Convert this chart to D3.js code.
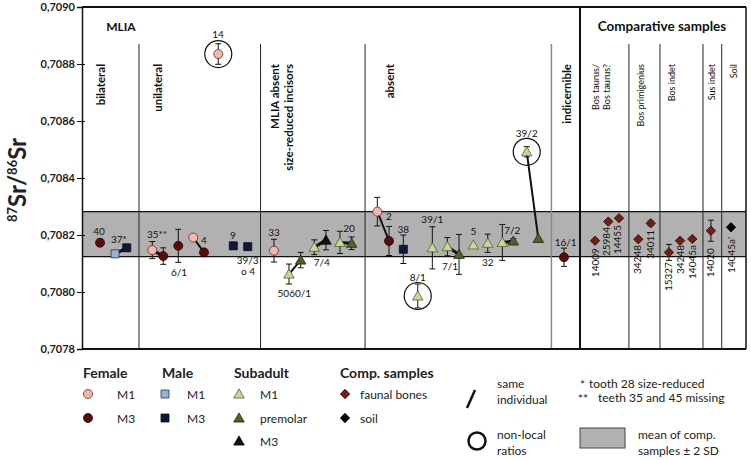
<!DOCTYPE html>
<html>
<head>
<meta charset="utf-8">
<script src="https://cdn.jsdelivr.net/npm/d3@7"></script>
<style>
  body { margin: 0; background: #fff; }
  svg { display: block; font-family: Lato, "Noto Sans", sans-serif; }
</style>
</head>
<body>
<svg id="chart" width="751" height="460"></svg>
<script>
// y axis ticks (87Sr/86Sr)
const yTicks = [0.7078, 0.7080, 0.7082, 0.7084, 0.7086, 0.7088, 0.7090];
// mean of comparative samples +/- 2 SD
const bandRange = [0.708124, 0.708282];

// points: [sample id, position along category axis, ratio, error]
const femaleM1 = [
  ['35**', 4.87, 0.708147, 0.000030],
  ['4', 7.71, 0.708191, 0],
  ['14', 9.44, 0.708835, 0.000036],
  ['33', 13.30, 0.708145, 0.000040],
  ['2', 20.46, 0.708282, 0.000050]
];
const femaleM3 = [
  ['40', 1.25, 0.708173, 0.000012],
  ['35**', 5.63, 0.708126, 0.000029],
  ['6/1', 6.67, 0.708162, 0.000058],
  ['4', 8.45, 0.708139, 0],
  ['2', 21.27, 0.708179, 0.000051],
  ['16/1', 33.39, 0.708122, 0.000032]
];
const maleM1 = [
  ['37*', 2.29, 0.708134, 0]
];
const maleM3 = [
  ['37*', 3.10, 0.708155, 0],
  ['9', 10.48, 0.708162, 0],
  ['39/3', 11.48, 0.708159, 0],
  ['38', 22.26, 0.708150, 0.000050]
];
const subadultM1 = [
  ['5060/1', 14.34, 0.708063, 0.000035],
  ['7/4', 16.09, 0.708157, 0.000026],
  ['20', 17.87, 0.708174, 0.000039],
  ['8/1', 23.26, 0.707986, 0.000042],
  ['39/1', 24.27, 0.708155, 0.000074],
  ['7/1', 25.31, 0.708159, 0.000032],
  ['5', 27.11, 0.708165, 0],
  ['32', 28.11, 0.708171, 0.000032],
  ['7/2', 29.12, 0.708174, 0.000063],
  ['39/2', 30.81, 0.708492, 0.000018]
];
const subadultPremolar = [
  ['5060/1', 15.15, 0.708112, 0.000027],
  ['20', 18.68, 0.708171, 0.000022],
  ['7/1', 26.12, 0.708132, 0.000070],
  ['7/2', 29.88, 0.708179, 0.000008],
  ['39/2', 31.61, 0.708188, 0]
];
const subadultM3 = [
  ['7/4', 16.90, 0.708182, 0.000034]
];
const faunalBones = [
  ['14009', 35.54, 0.708180, 0],
  ['25984', 36.46, 0.708247, 0],
  ['14455', 37.20, 0.708259, 0],
  ['34248', 38.54, 0.708185, 0],
  ['34011', 39.40, 0.708241, 0.000008],
  ['15327', 40.66, 0.708139, 0.000028],
  ['34248', 41.43, 0.708180, 0],
  ['14045a', 42.28, 0.708186, 0],
  ['14020', 43.57, 0.708215, 0.000037]
];
const soil = [
  ["14045a'", 44.96, 0.708227, 0]
];

// same individual links and non-local samples (by sample id)
const sameIndividual = ['37*', '35**', '4', '5060/1', '7/4', '20', '2', '7/1', '7/2', '39/2'];
const nonLocal = [['14', femaleM1], ['8/1', subadultM1], ['39/2', subadultM1]];

// sample labels: [text, position, ratio]
const pointLabels = [
  ['40', 1.18, 0.708215], ['37*', 2.56, 0.708186], ['35**', 5.20, 0.708204],
  ['6/1', 6.72, 0.708070], ['4', 8.45, 0.708182], ['9', 10.46, 0.708200],
  ['39/3', 11.48, 0.708112], ['o 4', 11.50, 0.708074], ['14', 9.42, 0.708905],
  ['33', 13.30, 0.708211], ['5060/1', 14.71, 0.707998], ['7/4', 16.61, 0.708106],
  ['20', 18.50, 0.708224], ['2', 21.27, 0.708267], ['38', 22.26, 0.708220],
  ['8/1', 23.26, 0.708054], ['39/1', 24.27, 0.708256], ['7/1', 25.49, 0.708091],
  ['5', 27.11, 0.708214], ['32', 28.11, 0.708106], ['7/2', 29.81, 0.708218],
  ['39/2', 30.81, 0.708558], ['16/1', 33.51, 0.708177]
];
// rotated labels of comparative samples: [text, position, ratio at top]
const compLabels = [
  ['14009', 35.54, 0.708154], ['25984', 36.30, 0.708228], ['14455', 37.06, 0.708235],
  ['34248', 38.45, 0.708165], ['34011', 39.35, 0.708218], ['15327', 40.60, 0.708105],
  ['34248', 41.43, 0.708165], ['14045a', 42.25, 0.708165], ['14020', 43.50, 0.708154],
  ["14045a'", 44.96, 0.708193]
];

// group headers
const mainHeaders = [['MLIA', 2.70, 12], ['Comparative samples', 40.18, 13.5]];
const groupHeaders = [
  ['bilateral', 1.25, true], ['unilateral', 5.20, true], ['MLIA absent', 13.37, true],
  ['size-reduced incisors', 14.31, true], ['absent', 21.27, true], ['indicernible', 33.56, true],
  ['Bos taurus/', 35.54, false], ['Bos taurus?', 36.33, false], ['Bos primigenius', 38.66, false],
  ['Bos indet', 40.87, false], ['Sus indet', 43.61, false], ['Soil', 45.10, false]
];
const thinDividers = [3.95, 12.37, 19.61, 37.89, 40.04, 43.02, 44.32];
const grayDivider = 32.52;
const mainDivider = 34.50;
const headerLineTop = 0.70887;

const svg = d3.select('#chart');
const x = d3.scaleLinear().domain([0, 46]).range([82, 746]);
const y = d3.scaleLinear().domain([0.7078, 0.7090]).range([349, 7]);

// grey band
svg.append('rect')
  .attr('x', x(0)).attr('width', x(46) - x(0))
  .attr('y', y(bandRange[1])).attr('height', y(bandRange[0]) - y(bandRange[1]))
  .attr('fill', '#b1b1b1');
bandRange.forEach(v => {
  svg.append('line').attr('x1', x(0)).attr('x2', x(46))
    .attr('y1', y(v)).attr('y2', y(v)).attr('stroke', '#111').attr('stroke-width', 1.2);
});

// dividers
svg.selectAll('.div').data(thinDividers).enter().append('line')
  .attr('x1', d => x(d)).attr('x2', d => x(d))
  .attr('y1', y(headerLineTop)).attr('y2', y(0.7078))
  .attr('stroke', '#222').attr('stroke-width', 1);
svg.append('line')
  .attr('x1', x(grayDivider)).attr('x2', x(grayDivider))
  .attr('y1', y(headerLineTop)).attr('y2', y(0.7078))
  .attr('stroke', '#8a8a8a').attr('stroke-width', 1.5);
svg.append('line')
  .attr('x1', x(mainDivider)).attr('x2', x(mainDivider))
  .attr('y1', y(0.7090)).attr('y2', y(0.7078))
  .attr('stroke', '#111').attr('stroke-width', 2);

// headers
svg.selectAll('.mainHead').data(mainHeaders).enter().append('text')
  .attr('x', d => x(d[1])).attr('y', 31)
  .attr('text-anchor', 'middle').attr('font-weight', 'bold').attr('font-size', d => d[2])
  .attr('fill', '#111').text(d => d[0]);
svg.selectAll('.groupHead').data(groupHeaders).enter().append('text')
  .attr('transform', d => `translate(${x(d[1])},64) rotate(-90)`)
  .attr('text-anchor', 'end').attr('dominant-baseline', 'central')
  .attr('font-weight', d => d[2] ? 'bold' : 'normal')
  .attr('font-size', d => d[2] ? 11.5 : 9)
  .attr('fill', '#111').text(d => d[0]);

// y axis
const fmt = d3.format('.4f');
const yAxis = d3.axisLeft(y).tickValues(yTicks)
  .tickSize(5).tickPadding(2).tickFormat(d => fmt(d).replace('.', ','));
const ax = svg.append('g').attr('transform', `translate(${x(0)},0)`).call(yAxis);
ax.select('.domain').attr('stroke', '#111').attr('stroke-width', 1.5);
ax.selectAll('.tick line').attr('stroke', '#111').attr('x2', -5).attr('x1', 3);
ax.selectAll('.tick text').attr('font-family', 'Lato, sans-serif')
  .attr('font-size', 11).attr('font-weight', 'bold').attr('fill', '#222');

// frame
svg.append('line').attr('x1', x(0)).attr('x2', x(46)).attr('y1', y(0.7090)).attr('y2', y(0.7090))
  .attr('stroke', '#111').attr('stroke-width', 2);
svg.append('line').attr('x1', x(0)).attr('x2', x(46)).attr('y1', y(0.7078)).attr('y2', y(0.7078))
  .attr('stroke', '#111').attr('stroke-width', 2);
svg.append('line').attr('x1', x(46)).attr('x2', x(46)).attr('y1', y(0.7090)).attr('y2', y(0.7078))
  .attr('stroke', '#111').attr('stroke-width', 1.5);

// y title
const yTitle = svg.append('text')
  .attr('transform', `translate(26,180) rotate(-90)`)
  .attr('text-anchor', 'middle').attr('font-weight', 'bold').attr('font-size', 24)
  .attr('fill', '#222');
yTitle.append('tspan').attr('font-size', 13).attr('dy', -9).text('87');
yTitle.append('tspan').attr('dy', 9).text('Sr/');
yTitle.append('tspan').attr('font-size', 13).attr('dy', -9).text('86');
yTitle.append('tspan').attr('dy', 9).text('Sr');

// series styles
const series = [
  { data: femaleM1, shape: 'circle', fill: '#f2b7ae', stroke: '#6b2a26' },
  { data: femaleM3, shape: 'circle', fill: '#5c0b0b', stroke: '#2e0303' },
  { data: maleM1, shape: 'square', fill: '#93b2d8', stroke: '#2a3550' },
  { data: maleM3, shape: 'square', fill: '#0e1a33', stroke: '#050a16' },
  { data: subadultM1, shape: 'triangle', fill: '#c4d89b', stroke: '#4f6228' },
  { data: subadultPremolar, shape: 'triangle', fill: '#4f6228', stroke: '#1f2a0c' },
  { data: subadultM3, shape: 'triangle', fill: '#111111', stroke: '#000' },
  { data: faunalBones, shape: 'diamond', fill: '#6f1f14', stroke: '#3a0d06' },
  { data: soil, shape: 'diamond', fill: '#000', stroke: '#000' }
];
const symbolPath = {
  circle: d3.symbol().type(d3.symbolCircle).size(64)(),
  square: d3.symbol().type(d3.symbolSquare).size(64)(),
  triangle: d3.symbol().type(d3.symbolTriangle).size(48)(),
  diamond: d3.symbol().type(d3.symbolSquare).size(44)()
};
function shapeTransform(shape, px, py) {
  if (shape === 'diamond') return `translate(${px},${py}) rotate(45)`;
  if (shape === 'triangle') return `translate(${px},${py + 1})`;
  return `translate(${px},${py})`;
}

// same-individual links
const allPoints = [];
series.forEach(s => s.data.forEach(d => allPoints.push(d)));
sameIndividual.forEach(id => {
  const pts = allPoints.filter(d => d[0] === id).sort((a, b) => a[1] - b[1]);
  const close = Math.abs(pts[1][1] - pts[0][1]) < 1 && Math.abs(pts[1][2] - pts[0][2]) < 0.00004;
  svg.append('line')
    .attr('x1', x(pts[0][1])).attr('y1', y(pts[0][2]))
    .attr('x2', x(pts[1][1])).attr('y2', y(pts[1][2]))
    .attr('stroke', '#111').attr('stroke-width', close ? 3 : 2);
});

// error bars
series.forEach(s => {
  s.data.filter(d => d[3] > 0).forEach(d => {
    const g = svg.append('g').attr('stroke', '#111').attr('stroke-width', 1);
    const px = x(d[1]);
    g.append('line').attr('x1', px).attr('x2', px).attr('y1', y(d[2] + d[3])).attr('y2', y(d[2] - d[3]));
    [d[2] + d[3], d[2] - d[3]].forEach(v => {
      g.append('line').attr('x1', px - 3).attr('x2', px + 3).attr('y1', y(v)).attr('y2', y(v));
    });
  });
});

// non-local circles
nonLocal.forEach(([id, data]) => {
  const d = data.find(p => p[0] === id);
  svg.append('circle').attr('cx', x(d[1])).attr('cy', y(d[2])).attr('r', 13.5)
    .attr('fill', 'none').attr('stroke', '#111').attr('stroke-width', 1.2);
});

// markers
series.forEach(s => {
  svg.append('g').selectAll('path').data(s.data).enter().append('path')
    .attr('d', symbolPath[s.shape])
    .attr('transform', d => shapeTransform(s.shape, x(d[1]), y(d[2])))
    .attr('fill', s.fill).attr('stroke', s.stroke).attr('stroke-width', 0.8);
});

// labels
svg.selectAll('.plabel').data(pointLabels).enter().append('text')
  .attr('x', d => x(d[1])).attr('y', d => y(d[2]))
  .attr('text-anchor', 'middle').attr('dominant-baseline', 'central')
  .attr('font-size', 10).attr('fill', '#111').text(d => d[0]);
svg.selectAll('.clabel').data(compLabels).enter().append('text')
  .attr('transform', d => `translate(${x(d[1])},${y(d[2])}) rotate(-90)`)
  .attr('text-anchor', 'end').attr('dominant-baseline', 'central')
  .attr('font-size', 10).attr('fill', '#111').text(d => d[0]);

// legend
const legendGroups = [
  { title: 'Female', tx: 83, mx: 88, lx: 117, items: [[0, 'M1'], [1, 'M3']] },
  { title: 'Male', tx: 162, mx: 165, lx: 187, items: [[2, 'M1'], [3, 'M3']] },
  { title: 'Subadult', tx: 234, mx: 239, lx: 260, items: [[4, 'M1'], [5, 'premolar'], [6, 'M3']] },
  { title: 'Comp. samples', tx: 340, mx: 345, lx: 360, items: [[7, 'faunal bones'], [8, 'soil']] }
];
const rowY = [394, 418, 441];
legendGroups.forEach(gr => {
  svg.append('text').attr('x', gr.tx).attr('y', 378)
    .attr('font-weight', 'bold').attr('font-size', 14).attr('fill', '#222').text(gr.title);
  gr.items.forEach(([si, label], i) => {
    const s = series[si];
    svg.append('path').attr('d', symbolPath[s.shape])
      .attr('transform', shapeTransform(s.shape, gr.mx, rowY[i]))
      .attr('fill', s.fill).attr('stroke', s.stroke).attr('stroke-width', 0.8);
    svg.append('text').attr('x', gr.lx).attr('y', rowY[i] + 4.5)
      .attr('font-size', 12).attr('fill', '#222').text(label);
  });
});

// notes
const note = (tx, ty, t) => svg.append('text').attr('x', tx).attr('y', ty)
  .attr('font-size', 12).attr('fill', '#222').text(t);
svg.append('line').attr('x1', 467).attr('y1', 408).attr('x2', 475).attr('y2', 390)
  .attr('stroke', '#111').attr('stroke-width', 2.5);
note(497, 388, 'same');
note(497, 404, 'individual');
svg.append('circle').attr('cx', 477).attr('cy', 441).attr('r', 8.5)
  .attr('fill', 'none').attr('stroke', '#111').attr('stroke-width', 2.5);
note(497, 439, 'non-local');
note(497, 455, 'ratios');
note(580, 389, '*');
note(589, 388, 'tooth 28 size-reduced');
note(578, 403, '**');
note(598, 402, 'teeth 35 and 45 missing');
svg.append('rect').attr('x', 580).attr('y', 428).attr('width', 45).attr('height', 20)
  .attr('fill', '#b1b1b1').attr('stroke', '#444').attr('stroke-width', 1);
note(638, 439, 'mean of comp.');
note(638, 455, 'samples \u00b1 2 SD');
</script>
</body>
</html>
